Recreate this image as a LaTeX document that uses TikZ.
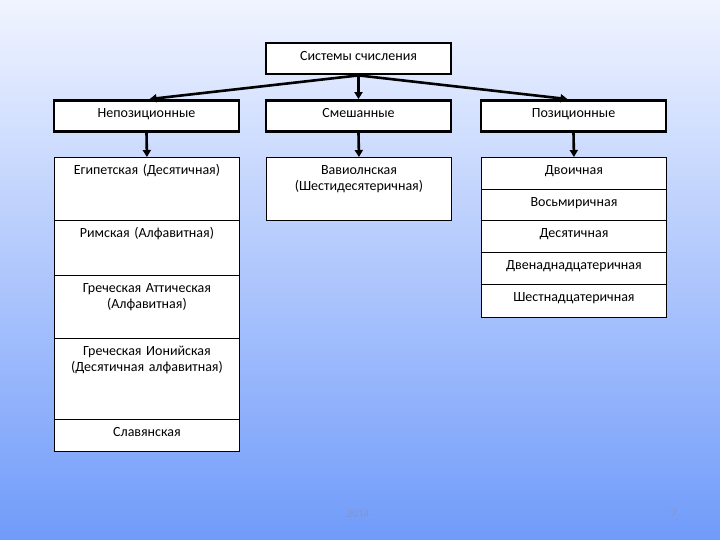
\documentclass[tikz,border=0pt]{standalone}
\usepackage{fontspec}
\setmainfont{Carlito}
\usetikzlibrary{arrows.meta}
\definecolor{bgtop}{RGB}{240,244,255}
\definecolor{bgbot}{RGB}{112,155,250}
\definecolor{foot}{RGB}{130,150,205}
\tikzset{
  head/.style={draw,line width=2.8pt,fill=white,minimum width=185pt,minimum height=31pt,inner sep=0pt,
    text height=8pt,text depth=4pt,font=\fontsize{14}{16}\selectfont},
  cell/.style={draw,line width=0.9pt,fill=white,anchor=north west,minimum width=185pt,text width=180pt,align=center,
    inner xsep=2.5pt,inner ysep=5pt,text height=12pt,text depth=#1,font=\fontsize{14}{16}\selectfont},
  link/.style={line width=2.6pt,-{Triangle[length=7pt,width=8pt]}}
}
\begin{document}
\begin{tikzpicture}[x=1pt,y=-1pt]
    \shade[top color=bgtop,bottom color=bgbot] (0,0) rectangle (720,540);
    \useasboundingbox (0,0) rectangle (720,540);
    % heads
    \node[head] (sys) at (358.5,58.5) {Системы счисления};
    \node[head] (nonpos) at (146.5,116) {Непозиционные};
    \node[head] (mixed) at (358.5,116) {Смешанные};
    \node[head] (pos) at (573.5,116) {Позиционные};
    \draw[link] (sys.south) -- ([xshift=3pt]nonpos.north);
    \draw[link] (sys.south) -- (mixed.north);
    \draw[link] (sys.south) -- ([xshift=-6pt]pos.north);
    % non-positional
    \node[cell=41pt] (egypt) at (54,157) {Египетская (Десятичная)};
    \node[cell=33pt] (roman) at (54,220) {Римская (Алфавитная)};
    \node[cell=41pt] (attic) at (54,275) {Греческая Аттическая\\(Алфавитная)};
    \node[cell=59pt] (ionic) at (54,338) {Греческая Ионийская\\(Десятичная алфавитная)};
    \node[cell=10pt] (slav) at (54,419) {Славянская};
    % mixed
    \node[cell=41pt] (babyl) at (266,157) {Вавиолнская\\(Шестидесятеричная)};
    % positional
    \node[cell=10pt] (bin) at (481,157) {Двоичная};
    \node[cell=9pt] (oct) at (481,189) {Восьмиричная};
    \node[cell=10pt] (dec) at (481,220) {Десятичная};
    \node[cell=10pt] (duo) at (481,252) {Двенаднадцатеричная};
    \node[cell=11pt] (hex) at (481,284) {Шестнадцатеричная};
    \draw[link] (nonpos.south) -- (egypt.north);
    \draw[link] (mixed.south) -- (babyl.north);
    \draw[link] (pos.south) -- (bin.north);
    % footer
    \node[foot,font=\fontsize{11}{13}\selectfont] (year) at (358,514) {2014};
    \node[foot,font=\fontsize{11}{13}\selectfont] (page) at (674,514) {7};
\end{tikzpicture}
\end{document}
